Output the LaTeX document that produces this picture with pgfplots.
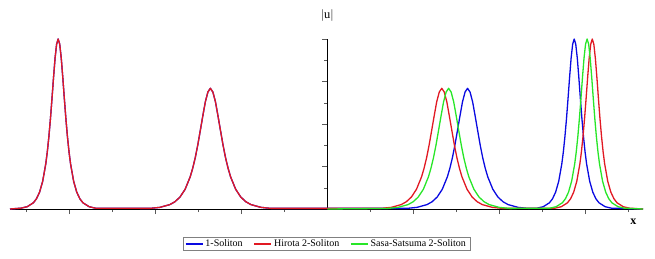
\documentclass[border=0pt]{standalone}
\usepackage{fontspec}
\setmainfont{Liberation Serif}
\usepackage{pgfplots}
\pgfplotsset{compat=1.18}
\definecolor{mblue}{RGB}{10,10,225}
\definecolor{mred}{RGB}{225,25,35}
\definecolor{mgreen}{RGB}{40,230,40}
\begin{document}
\begin{tikzpicture}
\useasboundingbox (0,0) rectangle (655pt,258pt);
\begin{axis}[
  at={(10pt,49pt)}, anchor=south west,
  scale only axis, width=633pt, height=170pt,
  axis lines=middle,
  axis line style={-, black, line width=0.6pt},
  xmin=-36.9, xmax=36.7, ymin=0, ymax=1,
  xtick={-30,-20,-10,10,20,30},
  minor xtick={-35,-25,-15,-5,5,15,25,35},
  ytick={0.25,0.5,0.75,1},
  minor ytick={0.125,0.375,0.625,0.875},
  xticklabels={}, yticklabels={},
  tick align=outside,
  major tick length=5pt, minor tick length=3pt,
  tick style={gray!70!black, line width=0.5pt},
  xlabel={\fontsize{12}{13}\selectfont\bfseries x},
  xlabel style={at={(rel axis cs:1,0)}, anchor=north east, xshift=-3pt, yshift=-6pt},
  ylabel={\fontsize{12.5}{14}\selectfont $|$u$|$},
  ylabel style={at={(axis cs:0,1)}, anchor=south, rotate=0, yshift=14pt},
  clip=false,
  legend columns=3,
  legend style={at={(rel axis cs:0.5,0)}, anchor=center, yshift=-35pt,
    draw=gray, line width=0.5pt, font=\fontsize{10}{11}\selectfont,
    inner xsep=2pt, inner ysep=0.5pt,
    /tikz/every even column/.append style={column sep=9pt}},
  every axis plot/.append style={line width=1.3pt, line join=round},
]
% 1-Soliton
\addplot[mblue] coordinates {
(-36.9,0) (-35.62,0.005) (-34.90,0.0135) (-34.18,0.0366) (-33.82,0.0603) (-33.46,0.0993) (-33.10,0.1631) (-32.74,0.2658) (-32.56,0.3372) (-32.38,0.4251) (-32.20,0.5295) (-32.02,0.6481) (-31.84,0.7724) (-31.66,0.8868) (-31.48,0.9695) (-31.30,1)
(-31.12,0.9695) (-30.94,0.8868) (-30.76,0.7724) (-30.58,0.6481) (-30.40,0.5295) (-30.22,0.4251) (-30.04,0.3372) (-29.86,0.2658) (-29.50,0.1631) (-29.14,0.0993) (-28.78,0.0603) (-28.42,0.0366) (-27.70,0.0135) (-26.98,0.005)
(-20.66,0.0036) (-19.48,0.0096) (-18.31,0.026) (-17.72,0.0428) (-17.13,0.0705) (-16.54,0.116) (-15.95,0.189) (-15.66,0.239) (-15.36,0.302) (-15.07,0.376) (-14.78,0.460) (-14.48,0.548) (-14.19,0.630) (-13.89,0.688) (-13.60,0.71)
(-13.31,0.688) (-13.01,0.630) (-12.72,0.548) (-12.42,0.460) (-12.13,0.376) (-11.84,0.302) (-11.54,0.239) (-11.25,0.189) (-10.66,0.116) (-10.07,0.0705) (-9.48,0.0428) (-8.89,0.026) (-7.72,0.0096) (-6.54,0.0036)
(9.24,0.0036) (10.42,0.0096) (11.59,0.026) (12.18,0.0428) (12.77,0.0705) (13.36,0.116) (13.95,0.189) (14.24,0.239) (14.54,0.302) (14.83,0.376) (15.12,0.460) (15.42,0.548) (15.71,0.630) (16.01,0.688) (16.30,0.71)
(16.59,0.688) (16.89,0.630) (17.18,0.548) (17.48,0.460) (17.77,0.376) (18.06,0.302) (18.36,0.239) (18.65,0.189) (19.24,0.116) (19.83,0.0705) (20.42,0.0428) (21.01,0.026) (22.18,0.0096) (23.36,0.0036)
(24.38,0.005) (25.10,0.0135) (25.82,0.0366) (26.18,0.0603) (26.54,0.0993) (26.90,0.1631) (27.26,0.2658) (27.44,0.3372) (27.62,0.4251) (27.80,0.5295) (27.98,0.6481) (28.16,0.7724) (28.34,0.8868) (28.52,0.9695) (28.70,1)
(28.88,0.9695) (29.06,0.8868) (29.24,0.7724) (29.42,0.6481) (29.60,0.5295) (29.78,0.4251) (29.96,0.3372) (30.14,0.2658) (30.50,0.1631) (30.86,0.0993) (31.22,0.0603) (31.58,0.0366) (32.30,0.0135) (33.02,0.005) (36.7,0)
};
\addlegendentry{1-Soliton}
% Hirota 2-Soliton
\addplot[mred] coordinates {
(-36.9,0) (-35.62,0.005) (-34.90,0.0135) (-34.18,0.0366) (-33.82,0.0603) (-33.46,0.0993) (-33.10,0.1631) (-32.74,0.2658) (-32.56,0.3372) (-32.38,0.4251) (-32.20,0.5295) (-32.02,0.6481) (-31.84,0.7724) (-31.66,0.8868) (-31.48,0.9695) (-31.30,1)
(-31.12,0.9695) (-30.94,0.8868) (-30.76,0.7724) (-30.58,0.6481) (-30.40,0.5295) (-30.22,0.4251) (-30.04,0.3372) (-29.86,0.2658) (-29.50,0.1631) (-29.14,0.0993) (-28.78,0.0603) (-28.42,0.0366) (-27.70,0.0135) (-26.98,0.005)
(-20.66,0.0036) (-19.48,0.0096) (-18.31,0.026) (-17.72,0.0428) (-17.13,0.0705) (-16.54,0.116) (-15.95,0.189) (-15.66,0.239) (-15.36,0.302) (-15.07,0.376) (-14.78,0.460) (-14.48,0.548) (-14.19,0.630) (-13.89,0.688) (-13.60,0.71)
(-13.31,0.688) (-13.01,0.630) (-12.72,0.548) (-12.42,0.460) (-12.13,0.376) (-11.84,0.302) (-11.54,0.239) (-11.25,0.189) (-10.66,0.116) (-10.07,0.0705) (-9.48,0.0428) (-8.89,0.026) (-7.72,0.0096) (-6.54,0.0036)
(6.24,0.0036) (7.42,0.0096) (8.59,0.026) (9.18,0.0428) (9.77,0.0705) (10.36,0.116) (10.95,0.189) (11.24,0.239) (11.54,0.302) (11.83,0.376) (12.12,0.460) (12.42,0.548) (12.71,0.630) (13.01,0.688) (13.30,0.71)
(13.59,0.688) (13.89,0.630) (14.18,0.548) (14.48,0.460) (14.77,0.376) (15.06,0.302) (15.36,0.239) (15.65,0.189) (16.24,0.116) (16.83,0.0705) (17.42,0.0428) (18.01,0.026) (19.18,0.0096) (20.36,0.0036)
(26.48,0.005) (27.20,0.0135) (27.92,0.0366) (28.28,0.0603) (28.64,0.0993) (29.00,0.1631) (29.36,0.2658) (29.54,0.3372) (29.72,0.4251) (29.90,0.5295) (30.08,0.6481) (30.26,0.7724) (30.44,0.8868) (30.62,0.9695) (30.80,1)
(30.98,0.9695) (31.16,0.8868) (31.34,0.7724) (31.52,0.6481) (31.70,0.5295) (31.88,0.4251) (32.06,0.3372) (32.24,0.2658) (32.60,0.1631) (32.96,0.0993) (33.32,0.0603) (33.68,0.0366) (34.40,0.0135) (35.12,0.005) (36.7,0)
};
\addlegendentry{Hirota 2-Soliton}
% Sasa-Satsuma 2-Soliton
\addplot[mgreen] coordinates {
(0,0)
(7.04,0.0036) (8.22,0.0096) (9.39,0.026) (9.98,0.0428) (10.57,0.0705) (11.16,0.116) (11.75,0.189) (12.04,0.239) (12.34,0.302) (12.63,0.376) (12.92,0.460) (13.22,0.548) (13.51,0.630) (13.81,0.688) (14.10,0.71)
(14.39,0.688) (14.69,0.630) (14.98,0.548) (15.28,0.460) (15.57,0.376) (15.86,0.302) (16.16,0.239) (16.45,0.189) (17.04,0.116) (17.63,0.0705) (18.22,0.0428) (18.81,0.026) (19.98,0.0096) (21.16,0.0036)
(25.88,0.005) (26.60,0.0135) (27.32,0.0366) (27.68,0.0603) (28.04,0.0993) (28.40,0.1631) (28.76,0.2658) (28.94,0.3372) (29.12,0.4251) (29.30,0.5295) (29.48,0.6481) (29.66,0.7724) (29.84,0.8868) (30.02,0.9695) (30.20,1)
(30.38,0.9695) (30.56,0.8868) (30.74,0.7724) (30.92,0.6481) (31.10,0.5295) (31.28,0.4251) (31.46,0.3372) (31.64,0.2658) (32.00,0.1631) (32.36,0.0993) (32.72,0.0603) (33.08,0.0366) (33.80,0.0135) (34.52,0.005) (36.7,0)
};
\addlegendentry{Sasa-Satsuma 2-Soliton}
\end{axis}
\end{tikzpicture}
\end{document}
